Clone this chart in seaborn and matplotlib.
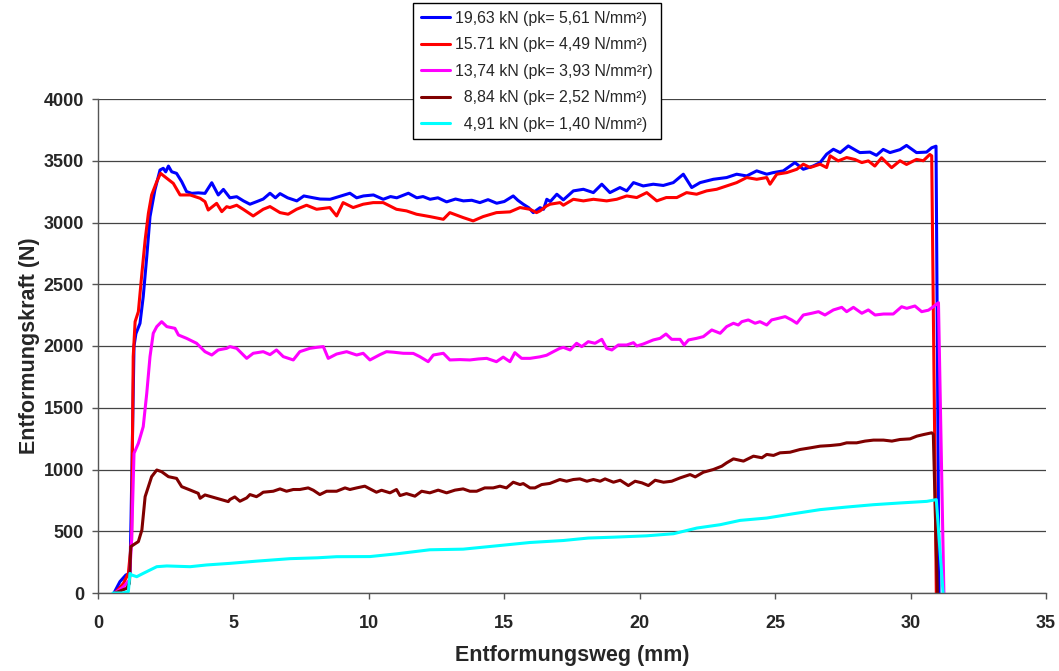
import numpy as np
import pandas as pd
import matplotlib
matplotlib.use("Agg")
import matplotlib.pyplot as plt
import seaborn as sns

# ---------------- data ----------------
labels = [
    "19,63 kN (pk= 5,61 N/mm²)",
    "15.71 kN (pk= 4,49 N/mm²)",
    "13,74 kN (pk= 3,93 N/mm²r)",
    "  8,84 kN (pk= 2,52 N/mm²)",
    "  4,91 kN (pk= 1,40 N/mm²)",
]
colors = ["#0000FF", "#FF0000", "#FF00FF", "#800000", "#00FFFF"]

blue_x = [0.59, 0.81, 1.03, 1.18, 1.22, 1.33, 1.40, 1.55, 1.67, 1.80, 1.92, 2.10, 2.29, 2.41, 2.50, 2.60,
          2.72, 2.90, 3.09, 3.27, 3.46, 3.70, 3.95, 4.20, 4.44, 4.63, 4.87, 5.12, 5.37, 5.61, 5.86, 6.10,
          6.35, 6.55, 6.72, 7.00, 7.34, 7.60, 7.95, 8.20, 8.57, 8.90, 9.30, 9.55, 9.80, 10.17, 10.53, 10.80,
          11.03, 11.46, 11.77, 12.00, 12.26, 12.55, 12.87, 13.20, 13.49, 13.80, 14.10, 14.40, 14.72, 15.00,
          15.33, 15.50, 15.70, 15.90, 16.07, 16.32, 16.45, 16.57, 16.70, 16.94, 17.18, 17.55, 17.92, 18.29,
          18.60, 18.90, 19.27, 19.52, 19.77, 20.13, 20.50, 20.87, 21.24, 21.61, 21.92, 22.23, 22.72, 23.21,
          23.58, 23.95, 24.32, 24.69, 24.93, 25.30, 25.73, 26.04, 26.41, 26.66, 26.90, 27.15, 27.40, 27.70,
          28.01, 28.13, 28.50, 28.74, 28.99, 29.24, 29.61, 29.85, 30.22, 30.59, 30.78, 30.94, 31.05]
blue_y = [0, 92, 146, 159, 600, 2000, 2100, 2183, 2400, 2723, 3047, 3263, 3425, 3439, 3410, 3457,
          3411, 3398, 3331, 3250, 3236, 3240, 3236, 3322, 3223, 3268, 3200, 3209, 3175, 3148, 3169, 3190,
          3237, 3200, 3234, 3200, 3175, 3215, 3200, 3190, 3188, 3210, 3237, 3200, 3215, 3223, 3188, 3210,
          3200, 3237, 3200, 3210, 3188, 3200, 3167, 3190, 3175, 3180, 3161, 3185, 3156, 3170,
          3215, 3180, 3148, 3120, 3080, 3120, 3107, 3188, 3170, 3229, 3183, 3256, 3269, 3242,
          3310, 3242, 3283, 3256, 3323, 3296, 3310, 3300, 3323, 3391, 3283, 3323, 3350, 3364,
          3391, 3377, 3418, 3391, 3404, 3418, 3485, 3431, 3458, 3485, 3553, 3593, 3566, 3620,
          3580, 3566, 3570, 3544, 3592, 3566, 3590, 3624, 3566, 3570, 3605, 3618, 0]

red_x = [0.63, 0.94, 1.12, 1.24, 1.30, 1.37, 1.49, 1.62, 1.74, 1.86, 1.98, 2.17, 2.31, 2.54, 2.78, 3.03,
         3.40, 3.77, 3.95, 4.07, 4.38, 4.57, 4.75, 4.87, 5.12, 5.36, 5.73, 6.10, 6.35, 6.72, 7.02, 7.33,
         7.70, 8.07, 8.56, 8.81, 9.05, 9.42, 9.79, 10.16, 10.53, 11.02, 11.39, 11.76, 12.25, 12.75, 12.99,
         13.48, 13.85, 14.22, 14.71, 15.21, 15.58, 15.95, 16.19, 16.32, 16.56, 16.69, 17.06, 17.18, 17.55,
         17.92, 18.29, 18.78, 19.15, 19.52, 19.89, 20.26, 20.63, 20.98, 21.37, 21.73, 22.10, 22.47, 22.84,
         23.21, 23.58, 23.95, 24.32, 24.69, 24.81, 25.06, 25.43, 25.80, 26.04, 26.29, 26.66, 26.90, 27.03,
         27.33, 27.64, 27.95, 28.20, 28.44, 28.68, 28.93, 29.30, 29.61, 29.85, 30.22, 30.47, 30.71, 30.78,
         30.95]
red_y = [0, 78, 159, 429, 1914, 2197, 2278, 2588, 2858, 3074, 3223, 3331, 3398, 3358, 3317, 3223,
         3223, 3196, 3169, 3101, 3155, 3088, 3128, 3121, 3140, 3107, 3053, 3107, 3129, 3080, 3067, 3107,
         3140, 3107, 3121, 3053, 3161, 3121, 3148, 3161, 3161, 3107, 3094, 3067, 3048, 3026, 3080,
         3040, 3013, 3048, 3080, 3086, 3121, 3107, 3080, 3094, 3134, 3148, 3161, 3140, 3188,
         3175, 3188, 3175, 3188, 3215, 3202, 3242, 3175, 3202, 3202, 3242, 3229, 3256, 3269,
         3296, 3323, 3364, 3350, 3364, 3310, 3391, 3404, 3431, 3472, 3445, 3472, 3445, 3540,
         3499, 3526, 3510, 3485, 3499, 3457, 3524, 3444, 3500, 3470, 3511, 3500, 3551, 3540,
         0]

magenta_x = [0.63, 0.94, 1.16, 1.24, 1.33, 1.49, 1.67, 1.80, 1.92, 2.04, 2.17, 2.35, 2.54, 2.84, 2.97,
             3.27, 3.64, 3.95, 4.20, 4.44, 4.75, 4.87, 5.12, 5.49, 5.73, 6.10, 6.35, 6.59, 6.84, 7.21,
             7.45, 7.82, 8.07, 8.32, 8.50, 8.81, 9.18, 9.55, 9.79, 10.04, 10.41, 10.65, 10.90, 11.27,
             11.64, 11.88, 12.19, 12.38, 12.75, 12.99, 13.36, 13.73, 14.04, 14.35, 14.71, 14.96, 15.21,
             15.39, 15.64, 15.95, 16.31, 16.56, 16.81, 17.05, 17.18, 17.43, 17.67, 17.86, 18.10, 18.35,
             18.60, 18.78, 18.97, 19.21, 19.52, 19.77, 19.89, 20.13, 20.50, 20.75, 20.97, 21.18, 21.49,
             21.64, 21.80, 22.10, 22.35, 22.66, 22.97, 23.21, 23.46, 23.64, 23.77, 24.01, 24.26, 24.44,
             24.69, 24.87, 25.12, 25.37, 25.61, 25.80, 26.04, 26.35, 26.60, 26.84, 27.15, 27.46, 27.64,
             27.89, 28.20, 28.44, 28.69, 29.00, 29.36, 29.67, 29.86, 30.16, 30.41, 30.66, 30.84, 31.03,
             31.23]
magenta_y = [0, 51, 105, 429, 1131, 1212, 1347, 1617, 1914, 2103, 2157, 2197, 2157, 2143, 2089,
             2062, 2022, 1954, 1927, 1968, 1981, 1995, 1981, 1900, 1941, 1954, 1930, 1968, 1914, 1887,
             1954, 1981, 1989, 1995, 1900, 1935, 1954, 1927, 1941, 1887, 1930, 1954, 1950, 1941,
             1940, 1914, 1873, 1927, 1941, 1887, 1890, 1887, 1895, 1900, 1873, 1910, 1873,
             1946, 1900, 1900, 1912, 1925, 1954, 1981, 1989, 1968, 2022, 1995, 2035, 2022,
             2054, 1981, 1968, 2008, 2008, 2027, 2000, 2016, 2049, 2062, 2097, 2054, 2054,
             2008, 2049, 2062, 2076, 2130, 2103, 2157, 2184, 2170, 2197, 2211, 2184, 2197,
             2170, 2211, 2224, 2238, 2211, 2184, 2251, 2265, 2278, 2251, 2292, 2313, 2278,
             2313, 2265, 2292, 2251, 2259, 2259, 2318, 2305, 2324, 2278, 2290, 2318, 2351,
             0]

brown_x = [0.63, 1.06, 1.16, 1.21, 1.30, 1.49, 1.62, 1.74, 1.86, 1.98, 2.17, 2.35, 2.60, 2.90, 3.09,
           3.40, 3.70, 3.77, 3.95, 4.38, 4.81, 4.87, 5.05, 5.24, 5.49, 5.61, 5.85, 5.98, 6.10, 6.47,
           6.72, 6.96, 7.21, 7.45, 7.76, 7.95, 8.19, 8.44, 8.81, 9.12, 9.30, 9.55, 9.85, 10.04, 10.28,
           10.47, 10.78, 11.02, 11.15, 11.39, 11.70, 11.95, 12.25, 12.56, 12.87, 13.18, 13.48, 13.73,
           13.98, 14.28, 14.59, 14.84, 15.08, 15.33, 15.58, 15.70, 15.95, 16.13, 16.38, 16.68, 17.05,
           17.30, 17.55, 17.79, 18.05, 18.29, 18.54, 18.72, 19.03, 19.28, 19.58, 19.83, 20.08, 20.32,
           20.57, 20.88, 21.18, 21.49, 21.86, 22.05, 22.35, 22.72, 23.03, 23.21, 23.46, 23.83, 24.20,
           24.51, 24.69, 24.94, 25.18, 25.55, 25.92, 26.29, 26.66, 27.03, 27.40, 27.64, 28.01, 28.32,
           28.63, 29.00, 29.31, 29.61, 29.98, 30.23, 30.48, 30.78, 30.84, 30.99]
brown_y = [0, 38, 78, 375, 389, 416, 510, 780, 861, 942, 996, 982, 942, 928, 861,
           834, 807, 767, 794, 767, 740, 757, 778, 743, 770, 797, 780, 797, 816, 824,
           843, 824, 838, 838, 851, 832, 797, 824, 824, 851, 838, 851, 865, 843, 816,
           832, 811, 838, 789, 805, 784, 824, 811, 833, 811, 833, 843, 824,
           824, 851, 851, 865, 851, 897, 878, 886, 851, 851, 878, 887, 919,
           905, 919, 924, 905, 919, 905, 924, 897, 913, 870, 905, 892, 870,
           913, 897, 905, 932, 959, 940, 978, 1000, 1027, 1054, 1086, 1068, 1108,
           1095, 1122, 1114, 1135, 1140, 1162, 1175, 1189, 1194, 1202, 1216, 1216, 1230,
           1238, 1238, 1230, 1243, 1248, 1270, 1283, 1297, 1285, 0]

cyan_x = [0.55, 0.90, 1.12, 1.18, 1.24, 1.43, 1.67, 1.92, 2.17, 2.54, 3.40, 4.01, 4.87, 5.86, 7.09,
          8.10, 8.81, 10.04, 11.02, 12.25, 13.48, 14.72, 15.95, 17.18, 18.10, 19.03, 20.26, 21.25,
          22.11, 22.97, 23.71, 24.69, 25.68, 26.66, 27.64, 28.63, 29.61, 30.60, 30.95, 31.20]
cyan_y = [0, 0, 11, 159, 146, 132, 159, 186, 213, 219, 213, 227, 240, 258, 278,
          285, 294, 295, 317, 350, 355, 382, 409, 425, 445, 452, 463, 480,
          526, 553, 588, 607, 642, 675, 696, 715, 729, 742, 756, 0]

x_ticks = [0, 5, 10, 15, 20, 25, 30, 35]
y_ticks = [0, 500, 1000, 1500, 2000, 2500, 3000, 3500, 4000]

# ---------------- build long table ----------------
series_x = [blue_x, red_x, magenta_x, brown_x, cyan_x]
series_y = [blue_y, red_y, magenta_y, brown_y, cyan_y]
frames = []
for lab, xs, ys in zip(labels, series_x, series_y):
    frames.append(pd.DataFrame({"weg": xs, "kraft": ys, "serie": lab}))
df = pd.concat(frames, ignore_index=True)

# ---------------- plot ----------------
sns.set_theme(style="white")
plt.rcParams["font.family"] = ["Liberation Sans", "DejaVu Sans"]

fig = plt.figure(figsize=(10.59, 6.71), dpi=100)
ax = fig.add_axes([98 / 1059, 1 - 593 / 671, (1046 - 98) / 1059, (593 - 99) / 671])

sns.lineplot(data=df, x="weg", y="kraft", hue="serie", hue_order=labels,
             palette=colors, sort=False, estimator=None, linewidth=2.2,
             legend=False, ax=ax)

ax.set_xlim(0, 35)
ax.set_ylim(0, 4000)
ax.set_xticks(x_ticks)
ax.set_yticks(y_ticks)
ax.set_xticklabels([str(v) for v in x_ticks], fontsize=13, fontweight="bold")
ax.set_yticklabels([str(v) for v in y_ticks], fontsize=13, fontweight="bold")
ax.tick_params(axis="both", direction="out", length=4, width=1, color="#555555",
               bottom=True, left=True)
ax.tick_params(axis="x", pad=12)
ax.tick_params(axis="y", pad=6)
ax.yaxis.grid(True, color="#444444", linewidth=0.9)
ax.xaxis.grid(False)
ax.set_axisbelow(True)
for s in ["top", "right"]:
    ax.spines[s].set_visible(False)
for s in ["left", "bottom"]:
    ax.spines[s].set_color("#555555")
    ax.spines[s].set_linewidth(1.0)

ax.set_xlabel("Entformungsweg (mm)", fontsize=15.5, fontweight="bold", labelpad=9)
ax.set_ylabel("Entformungskraft (N)", fontsize=15.5, fontweight="bold", labelpad=3)

handles = ax.get_lines()[:5]
leg = fig.legend(handles, labels, loc="upper left",
                 bbox_to_anchor=(413 / 1059, 1 - 3 / 671),
                 fontsize=11.4, frameon=True, fancybox=False, framealpha=1,
                 edgecolor="black", handlelength=1.85, handletextpad=0.3,
                 labelspacing=0.72, borderpad=0.5, borderaxespad=0)
leg.get_frame().set_linewidth(1.0)

fig.savefig("out.png", dpi=100)
